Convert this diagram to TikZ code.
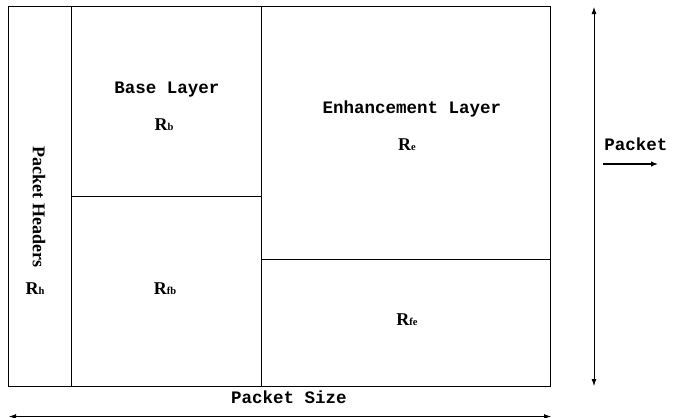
\documentclass[tikz,border=0pt]{standalone}
\usepackage{fontspec}
\setmainfont{Liberation Serif}
\newfontfamily\monob{Liberation Mono}
\usetikzlibrary{arrows.meta}
\tikzset{
  cell/.style={draw=black, line width=1pt, inner sep=0pt, anchor=north west},
  mono/.style={font=\monob\bfseries\fontsize{17.5}{20}\selectfont, inner sep=0pt},
  rlab/.style={font=\bfseries\fontsize{18}{20}\selectfont, inner sep=0pt},
  dim/.style={line width=0.8pt, {Latex[length=7pt,width=5pt]}-{Latex[length=7pt,width=5pt]}},
  fwd/.style={line width=1.2pt, -{Latex[length=7pt,width=5.5pt]}}
}
\newcommand{\sbx}[1]{{\fontsize{10.5}{10}\selectfont #1}}
\begin{document}
\begin{tikzpicture}[x=1pt,y=-1pt]
\useasboundingbox (0,0) rectangle (673,418);
% cells
\node[cell, minimum width=63pt, minimum height=380pt] (hdr) at (8,6) {};
\node[cell, minimum width=190pt, minimum height=190pt] (base) at (71,6) {};
\node[cell, minimum width=190pt, minimum height=190pt] (fb) at (71,196) {};
\node[cell, minimum width=289pt, minimum height=253pt] (enh) at (261,6) {};
\node[cell, minimum width=289pt, minimum height=127pt] (fe) at (261,259) {};
% labels
\node[rlab, rotate=-90] (hdrtxt) at (39,207) {Packet Headers};
\node[rlab] (rh) at (35,289) {R\sbx{h}};
\node[mono] (basetxt) at (167,90) {Base Layer};
\node[rlab] (rb) at (164,125) {R\sbx{b}};
\node[mono] (enhtxt) at (412,109) {Enhancement Layer};
\node[rlab] (re) at (407,145) {R\sbx{e}};
\node[rlab] (rfb) at (165,289) {R\sbx{fb}};
\node[rlab] (rfe) at (407,320) {R\sbx{fe}};
\node[mono] (size) at (289,397) {Packet Size};
\node[mono] (pkt) at (636,144) {Packet};
% arrows
\coordinate (vtop) at (594,7);
\coordinate (vbot) at (594,386);
\draw[dim] (vbot) -- (vtop);
\coordinate (hl) at (9,416.5);
\coordinate (hr) at (551,416.5);
\draw[dim] (hl) -- (hr);
\coordinate (pa) at (603,164);
\coordinate (pb) at (658,164);
\draw[fwd] (pa) -- (pb);
\end{tikzpicture}
\end{document}
